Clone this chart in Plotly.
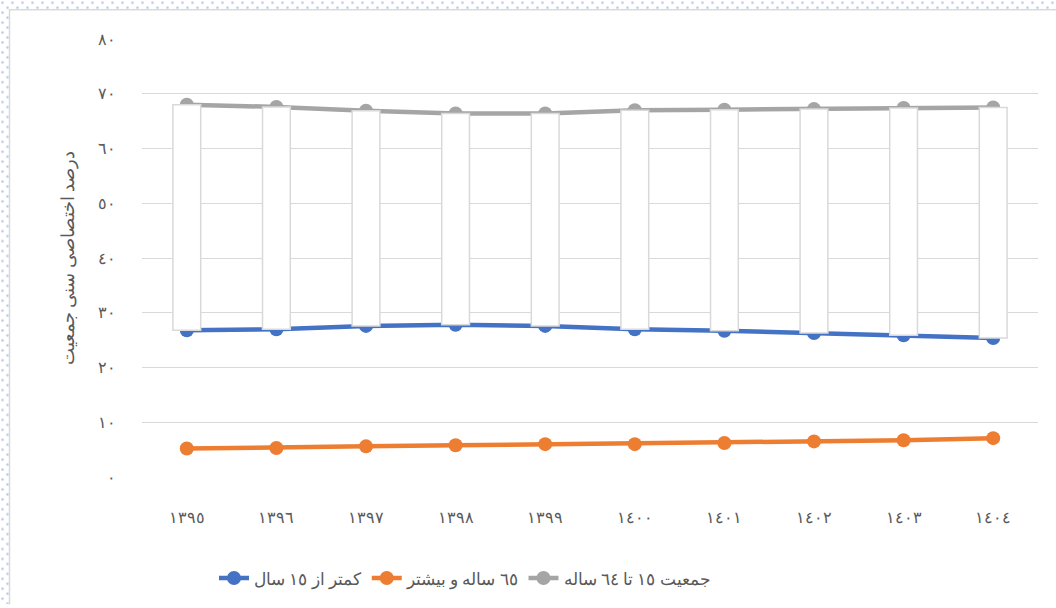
import base64
import plotly.graph_objects as go

years = ["١٣٩٥", "١٣٩٦", "١٣٩٧", "١٣٩٨", "١٣٩٩", "١٤٠٠", "١٤٠١", "١٤٠٢", "١٤٠٣", "١٤٠٤"]
under15 = [26.8, 27.0, 27.6, 27.8, 27.6, 27.0, 26.7, 26.3, 25.9, 25.4]
over65 = [5.2, 5.3, 5.6, 5.8, 6.0, 6.0, 6.2, 6.5, 6.7, 7.1]
age15_64 = [68.0, 67.6, 66.9, 66.4, 66.4, 67.0, 67.1, 67.2, 67.4, 67.5]

ytick_vals = [0, 10, 20, 30, 40, 50, 60, 70, 80]
ytick_text = ["٠", "١٠", "٢٠", "٣٠", "٤٠", "٥٠", "٦٠", "٧٠", "٨٠"]

names = ["کمتر از ١٥ سال", "٦٥ ساله و بیشتر", "جمعیت ١٥ تا ٦٤ ساله"]
colors = ["#4472C4", "#ED7D31", "#A5A5A5"]
ytitle = "درصد اختصاصی سنی جمعیت"

W, H = 1056, 608
L, R, T, B = 142, 18, 39, 128
PW, PH = W - L - R, H - T - B

FONT = "Liberation Serif, DejaVu Serif, serif"
TXT = "#595959"

fig = go.Figure()
for vals, name, col in zip([under15, over65, age15_64], names, colors):
    fig.add_trace(go.Scatter(
        x=years, y=vals, name=name, mode="lines+markers",
        line=dict(color=col, width=4.5),
        marker=dict(color=col, size=14),
        xaxis="x", yaxis="y",
    ))

# up-down bars between series (drawn on overlay axes so they sit above lines)
fig.add_trace(go.Bar(
    x=years, y=[g - u for g, u in zip(age15_64, under15)], base=under15,
    width=0.31, marker=dict(color="white", line=dict(color="#D9D9D9", width=1.5)),
    showlegend=False, xaxis="x2", yaxis="y2", hoverinfo="skip",
))

# background: dotted pattern with white panel
svg = f'''<svg xmlns="http://www.w3.org/2000/svg" width="{W}" height="{H}">
<defs><pattern id="p" width="10" height="10" patternUnits="userSpaceOnUse">
<circle cx="2.5" cy="2.5" r="1.3" fill="#B8CAEC"/><circle cx="7.5" cy="7.5" r="1.3" fill="#B8CAEC"/>
</pattern></defs>
<rect x="0" y="0" width="{W}" height="{H}" fill="white"/>
<rect x="0" y="0" width="{W}" height="{H}" fill="url(#p)"/>
<rect x="9.5" y="9.5" width="{W+20}" height="{H+20}" fill="white" stroke="#D9D9D9" stroke-width="1.5"/>
</svg>'''
src = "data:image/svg+xml;base64," + base64.b64encode(svg.encode()).decode()

fig.update_layout(
    width=W, height=H,
    margin=dict(l=L, r=R, t=T, b=B),
    paper_bgcolor="white", plot_bgcolor="rgba(0,0,0,0)",
    font=dict(family=FONT, size=16, color=TXT),
    images=[dict(source=src, xref="paper", yref="paper",
                 x=-L / PW, y=1 + T / PH, sizex=W / PW, sizey=H / PH,
                 xanchor="left", yanchor="top", sizing="stretch", layer="below")],
    xaxis=dict(type="category", range=[-0.5, 9.5], showgrid=False, zeroline=False,
               showline=False, ticks="", ticklabelstandoff=29,
               tickfont=dict(size=16, color=TXT)),
    yaxis=dict(range=[0, 80], tickvals=ytick_vals, ticktext=ytick_text,
               showgrid=True, gridcolor="#D9D9D9", gridwidth=1, zeroline=False,
               showline=False, ticks="", ticklabelstandoff=25,
               tickfont=dict(size=16, color=TXT),
               title=dict(text=ytitle, font=dict(size=18, color=TXT), standoff=18)),
    xaxis2=dict(type="category", range=[-0.5, 9.5], overlaying="x", visible=False),
    yaxis2=dict(range=[0, 80], overlaying="y", visible=False),
    legend=dict(orientation="h", x=(214 - L) / PW, xanchor="left",
                y=1 - (564 - T) / PH, yanchor="top",
                font=dict(size=17, color=TXT), bgcolor="rgba(0,0,0,0)"),
    barmode="overlay",
    showlegend=True,
)

fig.write_html("out.html", config={"displayModeBar": False},
               post_script="document.body.style.margin='0';")
